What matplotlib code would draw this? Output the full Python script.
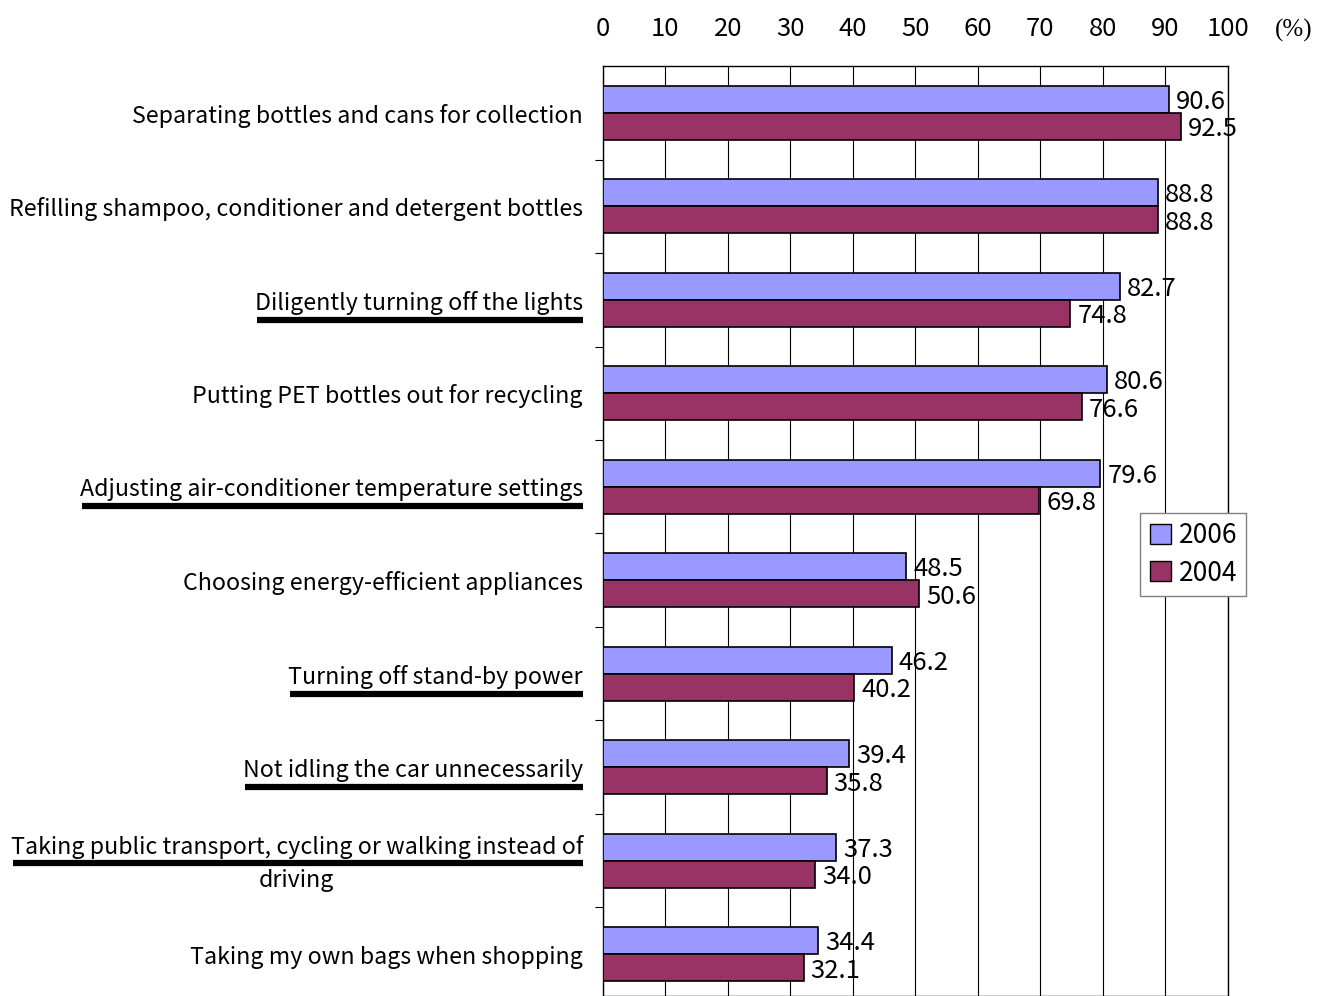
import numpy as np
import matplotlib
matplotlib.use("Agg")
import matplotlib.pyplot as plt
from matplotlib.patches import Patch
from matplotlib.lines import Line2D
from matplotlib.transforms import offset_copy

plt.rcParams['font.family'] = ['Noto Sans CJK JP', 'DejaVu Sans']

# データ
categories = [
    "Separating bottles and cans for collection",
    "Refilling shampoo, conditioner and detergent bottles",
    "Diligently turning off the lights",
    "Putting PET bottles out for recycling",
    "Adjusting air-conditioner temperature settings",
    "Choosing energy-efficient appliances",
    "Turning off stand-by power",
    "Not idling the car unnecessarily",
    "Taking public transport, cycling or walking instead of\ndriving",
    "Taking my own bags when shopping",
]
underlined = [False, False, True, False, True, False, True, True, True, False]
values_2006 = [90.6, 88.8, 82.7, 80.6, 79.6, 48.5, 46.2, 39.4, 37.3, 34.4]
values_2004 = [92.5, 88.8, 74.8, 76.6, 69.8, 50.6, 40.2, 35.8, 34.0, 32.1]
x_ticks = [0, 10, 20, 30, 40, 50, 60, 70, 80, 90, 100]

c2006 = '#9999FF'
c2004 = '#993366'

fig = plt.figure(figsize=(13.34, 9.96), dpi=100)
ax = fig.add_axes([0.452, 0.0, 0.4685, 0.9337])

y = np.arange(len(categories))
h = 0.29
ax.barh(y - h / 2, values_2006, height=h, color=c2006, edgecolor='black', linewidth=1.2, zorder=3)
ax.barh(y + h / 2, values_2004, height=h, color=c2004, edgecolor='black', linewidth=1.2, zorder=3)

# 数値ラベル
for i in range(len(categories)):
    ax.annotate(f"{values_2006[i]:.1f}", (values_2006[i], y[i] - h / 2), xytext=(5, -2),
                textcoords='offset points', va='center', ha='left', fontsize=18.5, zorder=4)
    ax.annotate(f"{values_2004[i]:.1f}", (values_2004[i], y[i] + h / 2), xytext=(5, -2),
                textcoords='offset points', va='center', ha='left', fontsize=18.5, zorder=4)

ax.set_xlim(0, 100)
ax.set_ylim(9.447, -0.5)
ax.xaxis.tick_top()
ax.set_xticks(x_ticks)
ax.set_xticklabels([str(t) for t in x_ticks], fontsize=18.5)
tick_pad = 17
ax.tick_params(axis='x', length=0, pad=tick_pad)
ax.grid(axis='x', color='black', linewidth=0.8, zorder=0)
ax.set_yticks([])
ax.set_yticks(np.arange(0.5, len(categories) - 0.5, 1), minor=True)
ax.tick_params(axis='y', which='minor', length=6, width=0.8, direction='out')
ax.yaxis.set_tick_params(which='minor', labelleft=False)
for s in ax.spines.values():
    s.set_linewidth(1.0)

# (%) は目盛りラベルと同じ高さに
ax.text(1.075, 1.0, "(%)", transform=offset_copy(ax.transAxes, fig, y=tick_pad, units='points'),
        fontsize=18, ha='left', va='bottom', family=['Liberation Serif', 'DejaVu Serif'])

# カテゴリラベル
label_tf = offset_copy(ax.get_yaxis_transform(), fig, y=-3, units='dots')
label_texts = []
for i, cat in enumerate(categories):
    t = ax.text(-0.032, y[i], cat, transform=label_tf, ha='right', va='center',
                multialignment='center', fontsize=16.7, linespacing=1.55)
    label_texts.append(t)

leg = ax.legend(handles=[Patch(facecolor=c2006, edgecolor='black', label='2006'),
                         Patch(facecolor=c2004, edgecolor='black', label='2004')],
                loc='center left', bbox_to_anchor=(0.86, 0.475), fontsize=19, fancybox=False,
                framealpha=1, edgecolor='#808080', handlelength=0.8, handleheight=0.8,
                handletextpad=0.3, borderpad=0.35, labelspacing=0.4, borderaxespad=0)
leg.set_zorder(5)

# 下線
fig.canvas.draw()
renderer = fig.canvas.get_renderer()
for t, u in zip(label_texts, underlined):
    if not u:
        continue
    bb = t.get_window_extent(renderer)
    if '\n' in t.get_text():
        yy = (bb.y0 + bb.y1) / 2 + 1
    else:
        yy = bb.y0 - 5
    fig.add_artist(Line2D([bb.x0 + 2, bb.x1], [yy, yy], transform=None, color='black', linewidth=4.5,
                          solid_capstyle='butt'))

fig.savefig('out.png', dpi=100)
